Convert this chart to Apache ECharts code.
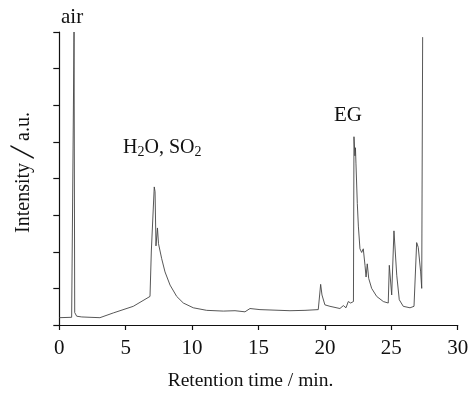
<!DOCTYPE html>
<html><head><meta charset="utf-8">
<script src="https://cdn.jsdelivr.net/npm/echarts@6/dist/echarts.min.js"></script>
<style>html,body{margin:0;padding:0;background:#fff}#c{width:472px;height:396px}</style>
</head><body><div id="c"></div>
<script>
// Retention time (min)
const times = [0,0.93,1.03,1.11,1.16,1.31,1.69,2.31,3.06,4.07,5.57,6.83,6.90,6.93,7.03,7.15,7.21,7.28,7.39,7.47,7.71,7.96,8.34,8.84,9.34,10.09,11.10,12.35,13.23,13.30,13.38,13.98,14.36,15.11,17.37,18.5,19.5,19.68,19.78,20.0,20.38,21.13,21.39,21.59,21.76,21.94,22.09,22.15,22.19,22.26,22.30,22.34,22.44,22.52,22.64,22.77,22.89,23.02,23.10,23.19,23.30,23.52,23.90,24.40,24.77,24.85,25.03,25.20,25.41,25.60,25.90,26.41,26.71,26.91,27.03,27.21,27.29,27.36];
// Intensity (a.u.)
const intensity = [0.20,0.21,0.24,8.0,0.34,0.24,0.22,0.21,0.20,0.33,0.51,0.78,0.78,2.02,2.02,3.77,3.64,2.16,2.65,2.22,1.81,1.45,1.09,0.78,0.60,0.47,0.40,0.38,0.39,0.43,0.38,0.36,0.45,0.42,0.39,0.40,0.42,1.11,0.82,0.55,0.51,0.45,0.53,0.47,0.64,0.60,0.63,0.64,5.14,4.62,4.84,4.40,3.32,2.70,2.08,1.98,2.08,1.63,1.31,1.67,1.27,1.00,0.78,0.64,0.60,1.63,0.82,2.57,1.36,0.69,0.51,0.47,0.51,2.25,2.12,1.45,1.00,7.86];
const xTicks = [0,5,10,15,20,25,30];

const data = times.map((t,i)=>[t,intensity[i]]);
const serif = 'Liberation Serif, Times New Roman, serif';
const chart = echarts.init(document.getElementById('c'));
chart.setOption({
  animation:false,
  backgroundColor:'#fff',
  grid:{left:59.3,right:14.3,top:32,bottom:65.3},
  xAxis:{type:'value',min:xTicks[0],max:xTicks[xTicks.length-1],interval:5,
    name:'Retention time / min.',nameLocation:'middle',nameGap:46,
    nameTextStyle:{fontFamily:serif,fontSize:19.5,color:'#111',padding:[0,16,0,0]},
    axisLine:{lineStyle:{color:'#111',width:1.2}},
    axisTick:{show:true,inside:false,length:5,lineStyle:{color:'#111',width:1.2}},
    axisLabel:{fontFamily:serif,fontSize:21,color:'#111',margin:13},
    splitLine:{show:false}},
  yAxis:{type:'value',min:0,max:8,interval:1,
    name:'Intensity ╱ a.u.',nameLocation:'middle',nameGap:26,
    nameTextStyle:{fontFamily:serif,fontSize:20,color:'#111',padding:[0,0,0,12]},
    axisLine:{show:true,lineStyle:{color:'#111',width:1.2}},
    axisTick:{show:true,inside:false,length:6,lineStyle:{color:'#111',width:1.2}},
    axisLabel:{show:false},
    splitLine:{show:false}},
  series:[{type:'line',data:data,showSymbol:false,symbol:'none',
    lineStyle:{color:'#444',width:0.9},z:3}],
  graphic:[
    {type:'text',left:61,top:7,style:{text:'air',font:'21px '+serif,fill:'#111'}},
    {type:'text',left:123,top:138,style:{text:'H{s|2}O, SO{s|2}',font:'20px '+serif,fill:'#111',
      rich:{s:{fontSize:14,fontFamily:serif,verticalAlign:'bottom',padding:[8,0,0,0]}}}},
    {type:'text',left:334,top:105,style:{text:'EG',font:'21px '+serif,fill:'#111'}}
  ]
});
</script></body></html>
